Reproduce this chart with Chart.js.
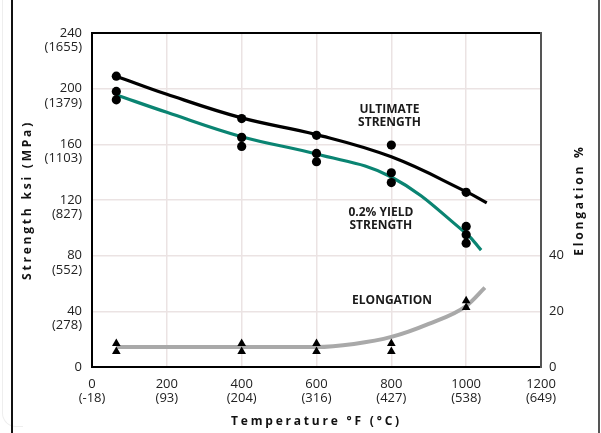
<!DOCTYPE html>
<html>
<head>
<meta charset="utf-8">
<script src="https://cdn.jsdelivr.net/npm/chart.js@4"></script>
<style>
  html, body { margin: 0; padding: 0; background: #fff; }
  #wrap { position: relative; width: 601px; height: 433px; overflow: hidden; }
  #chart { position: absolute; left: 0; top: 0; }
  .frame { position: absolute; top: -2px; bottom: -2px; }
  #frameL { left: 11px; width: 2px; background: #111; }
  #frameR { left: 598px; width: 2px; background: #555; }
  #frameSoft { left: 2px; width: 20px; top: -20px; bottom: 6px; border-left: 1px solid #eee; border-bottom: 1px solid #eee; border-bottom-left-radius: 14px; }
</style>
</head>
<body>
<div id="wrap">
  <div id="frameSoft" class="frame"></div>
  <canvas id="chart" width="601" height="433"></canvas>
  <div id="frameL" class="frame"></div>
  <div id="frameR" class="frame"></div>
</div>
<script>
// axis ticks
const tempTicksF = [0, 200, 400, 600, 800, 1000, 1200];
const tempTicksC = ['(-18)', '(93)', '(204)', '(316)', '(427)', '(538)', '(649)'];
const ksiTicks = [0, 40, 80, 120, 160, 200, 240];
const mpaTicks = ['', '(278)', '(552)', '(827)', '(1103)', '(1379)', '(1655)'];
const elongTicks = [0, 20, 40];

// fitted curves
const ultCurveT = [65, 200, 400, 600, 800, 1000, 1055];
const ultCurveKsi = [209, 196, 179, 167, 151, 126, 118];
const yldCurveT = [65, 200, 400, 600, 800, 1000, 1040];
const yldCurveKsi = [195.5, 183, 165.5, 153, 136.5, 96, 84];
const elCurveT = [65, 400, 600, 700, 800, 900, 1000, 1050];
const elCurvePct = [7.2, 7.2, 7.2, 8.3, 10.8, 15.5, 21.9, 28.5];

// test points
const testTemps = [65, 400, 600, 800, 1000];
const ultimateTests = [209, 178.5, 166.5, 159.5, 125.5];
const yieldTests = [[198, 192], [165, 158.5], [153.5, 147.5], [139.5, 132.5], [101, 95, 89]];
const elongTests = [[8.4, 5.6], [8.4, 5.6], [8.4, 5.6], [8.4, 5.6], [23.8, 21.4]];

// curve labels
const curveLabels = [
  { lines: ['ULTIMATE', 'STRENGTH'], x: 795, y: 180 },
  { lines: ['0.2% YIELD', 'STRENGTH'], x: 772, y: 106 },
  { lines: ['ELONGATION'], x: 802, y: 48 },
];

const GRID = '#ebe3e3';
Chart.defaults.font.family = "'Open Sans', sans-serif";
Chart.defaults.color = '#222';

const xy = (xs, ys) => xs.map((x, i) => ({ x, y: ys[i] }));

const strengthPts = [];
testTemps.forEach((t, i) => {
  strengthPts.push({ x: t, y: ultimateTests[i] });
  yieldTests[i].forEach(v => strengthPts.push({ x: t, y: v }));
});
const elongPts = [];
testTemps.forEach((t, i) => elongTests[i].forEach(v => elongPts.push({ x: t, y: v })));

// letter-spaced axis titles; right title reads bottom to top
const titleStyle = {
  id: 'titleStyle',
  afterLayout(chart) {
    Object.values(chart.scales).forEach(s => {
      if (s._styled) return;
      const orig = s.drawTitle;
      s.drawTitle = function () {
        const ctx = this.ctx;
        ctx.save();
        ctx.letterSpacing = '2.8px';
        if (this.id === 'y2') {
          const r = ctx.rotate;
          ctx.rotate = a => r.call(ctx, -a);
          orig.apply(this, arguments);
          delete ctx.rotate;
        } else {
          orig.apply(this, arguments);
        }
        ctx.restore();
      };
      s._styled = true;
    });
  }
};

const labelText = {
  id: 'labelText',
  afterDatasetsDraw(chart) {
    const { ctx, scales } = chart;
    ctx.save();
    ctx.font = "bold 12px 'Open Sans', sans-serif";
    ctx.fillStyle = '#1a1a1a';
    ctx.textAlign = 'center';
    ctx.textBaseline = 'middle';
    curveLabels.forEach(l => {
      const px = scales.x.getPixelForValue(l.x);
      const py = scales.y.getPixelForValue(l.y);
      const off = (l.lines.length - 1) * 13 / 2;
      l.lines.forEach((t, i) => ctx.fillText(t, px, py - off + i * 13));
    });
    ctx.restore();
  }
};

new Chart(document.getElementById('chart'), {
  type: 'scatter',
  data: {
    datasets: [
      {
        data: strengthPts,
        pointStyle: 'circle',
        pointRadius: 4.6,
        backgroundColor: '#000',
        borderWidth: 0,
      },
      {
        data: elongPts,
        yAxisID: 'y2',
        pointStyle: 'triangle',
        pointRadius: 5,
        backgroundColor: '#000',
        borderWidth: 0,
      },
      {
        type: 'line',
        data: xy(ultCurveT, ultCurveKsi),
        borderColor: '#000',
        borderWidth: 3.2,
        pointRadius: 0,
        tension: 0.4,
      },
      {
        type: 'line',
        data: xy(yldCurveT, yldCurveKsi),
        borderColor: '#0a8472',
        borderWidth: 3.2,
        pointRadius: 0,
        tension: 0.4,
      },
      {
        type: 'line',
        data: xy(elCurveT, elCurvePct),
        yAxisID: 'y2',
        borderColor: '#a9a9a9',
        borderWidth: 4,
        pointRadius: 0,
        cubicInterpolationMode: 'monotone',
      },
    ]
  },
  options: {
    responsive: false,
    animation: false,
    layout: { padding: { top: 33, left: 12, right: 2, bottom: 0 } },
    plugins: { legend: { display: false }, tooltip: { enabled: false } },
    scales: {
      x: {
        type: 'linear',
        min: 0, max: 1200,
        afterFit: s => { s.height = 66; },
        afterBuildTicks: s => { s.ticks = tempTicksF.map(v => ({ value: v })); },
        ticks: {
          padding: 10,
          maxRotation: 0,
          autoSkip: false,
          font: { size: 13, lineHeight: 1.1 },
          color: '#222',
          callback: (v, i) => [String(tempTicksF[i]), tempTicksC[i]],
        },
        grid: {
          color: c => (c.tick && c.tick.value === 1200 ? '#555' : GRID),
          lineWidth: 1.5,
          drawTicks: false,
        },
        border: { color: '#000', width: 2 },
        title: {
          display: true,
          text: 'Temperature °F (°C)',
          font: { size: 12, weight: 'bold' },
          color: '#111',
          padding: { top: 0, bottom: 4 },
        },
      },
      y: {
        min: 0, max: 240,
        afterFit: s => { s.width = 80; },
        afterBuildTicks: s => { s.ticks = ksiTicks.map(v => ({ value: v })); },
        ticks: {
          padding: 10,
          font: { size: 13, lineHeight: 1.1 },
          color: '#222',
          callback: (v, i) => (i === 0 ? '0' : ['', String(ksiTicks[i]), mpaTicks[i]]),
        },
        grid: {
          color: c => (c.tick && c.tick.value === 240 ? '#000' : GRID),
          lineWidth: c => (c.tick && c.tick.value === 240 ? 2 : 1.5),
          drawTicks: false,
        },
        border: { color: '#000', width: 2 },
        title: {
          display: true,
          text: 'Strength ksi (MPa)',
          font: { size: 12, weight: 'bold' },
          color: '#111',
          padding: { top: 8, bottom: 0 },
        },
      },
      y2: {
        position: 'right',
        min: 0, max: 120,
        afterFit: s => { s.width = 58; },
        afterBuildTicks: s => { s.ticks = elongTicks.map(v => ({ value: v })); },
        ticks: {
          padding: 8,
          font: { size: 13 },
          color: '#222',
          callback: (v, i) => String(elongTicks[i]),
        },
        grid: { display: false, drawTicks: false },
        border: { color: '#555', width: 2 },
        title: {
          display: true,
          text: 'Elongation %',
          font: { size: 12, weight: 'bold' },
          color: '#111',
          padding: { top: 12, bottom: 0 },
        },
      },
    },
  },
  plugins: [titleStyle, labelText],
});
</script>
</body>
</html>
